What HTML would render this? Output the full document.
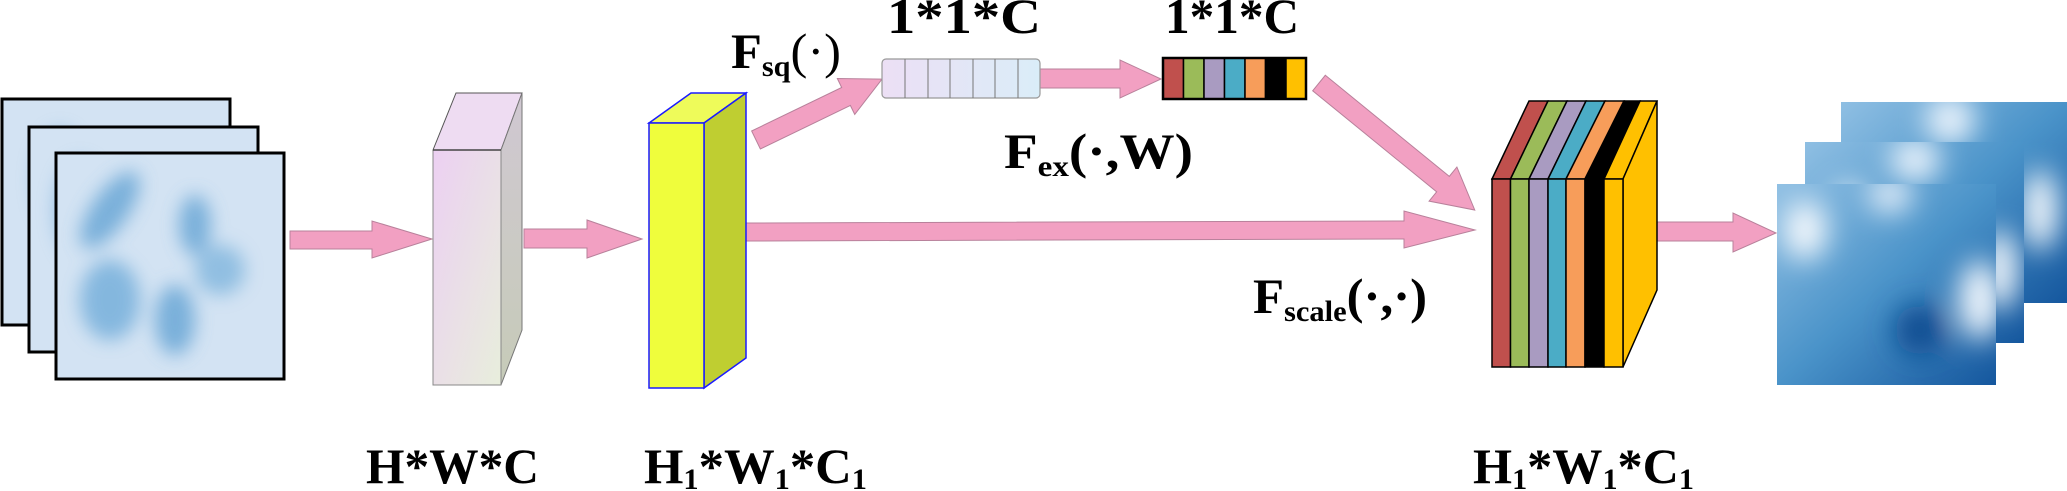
<!DOCTYPE html>
<html><head><meta charset="utf-8"><style>
html,body{margin:0;padding:0;background:#fff;}
svg{display:block;}
text{font-family:"Liberation Serif","Times New Roman",serif;font-weight:bold;fill:#000;}
</style></head><body>
<svg width="2067" height="491" viewBox="0 0 2067 491" xmlns="http://www.w3.org/2000/svg">
<defs>
<filter id="bl" x="-50%" y="-50%" width="200%" height="200%"><feGaussianBlur stdDeviation="9"/></filter>
<filter id="bl2" x="-50%" y="-50%" width="200%" height="200%"><feGaussianBlur stdDeviation="14"/></filter>
<linearGradient id="pinkF" x1="0" y1="0" x2="1" y2="1"><stop offset="0" stop-color="#ecd0f2"/><stop offset="1" stop-color="#e8eedc"/></linearGradient>
<linearGradient id="pinkS" x1="0" y1="0" x2="0" y2="1"><stop offset="0" stop-color="#d0c8d2"/><stop offset="1" stop-color="#c6cbb8"/></linearGradient>
<linearGradient id="cellG" x1="0" y1="0" x2="1" y2="0"><stop offset="0" stop-color="#ecdff5"/><stop offset="1" stop-color="#daedf8"/></linearGradient>
<linearGradient id="outG" x1="0" y1="0" x2="1" y2="1"><stop offset="0" stop-color="#8fbfe3"/><stop offset="0.5" stop-color="#4a93c9"/><stop offset="1" stop-color="#15579e"/></linearGradient>
<clipPath id="c1"><rect x="56" y="153" width="228" height="226"/></clipPath>
<clipPath id="c2"><rect x="1777" y="184" width="219" height="201"/></clipPath>
<clipPath id="c3"><rect x="1805" y="142" width="219" height="201"/></clipPath>
<clipPath id="c4"><rect x="1841" y="102" width="226" height="201"/></clipPath>
</defs>

<rect x="2" y="99" width="228" height="226" fill="#d3e3f3" stroke="#000" stroke-width="3"/>
<g filter="url(#bl)" opacity="0.6"><ellipse cx="60" cy="180" rx="25" ry="50" fill="#6ea9d6"/><ellipse cx="90" cy="270" rx="40" ry="30" fill="#6ea9d6"/></g>
<rect x="29" y="127" width="229" height="225" fill="#d3e3f3" stroke="#000" stroke-width="3"/>
<g filter="url(#bl)" opacity="0.6"><ellipse cx="80" cy="210" rx="25" ry="50" fill="#6ea9d6"/><ellipse cx="110" cy="300" rx="40" ry="30" fill="#6ea9d6"/></g>
<rect x="56" y="153" width="228" height="226" fill="#d3e3f3" stroke="#000" stroke-width="3"/>
<g clip-path="url(#c1)" filter="url(#bl)" opacity="0.75">
<ellipse cx="110" cy="210" rx="18" ry="45" fill="#5c9fd2" transform="rotate(35 110 210)"/>
<ellipse cx="195" cy="225" rx="16" ry="30" fill="#5c9fd2"/>
<ellipse cx="110" cy="300" rx="30" ry="40" fill="#6aa9d8"/>
<ellipse cx="175" cy="320" rx="20" ry="35" fill="#5c9fd2"/>
<ellipse cx="220" cy="270" rx="25" ry="25" fill="#7ab2dc"/>
</g>
<rect x="56" y="153" width="228" height="226" fill="none" stroke="#000" stroke-width="3"/>

<g fill="#f2a0c2" stroke="#b8819b" stroke-width="1">
<polygon points="290,231 372,231 372,221 432,239 372,258 372,249 290,249"/>
<polygon points="524,229 587,229 587,220 642,239 587,258 587,248 524,248"/>
<polygon points="746,223 1404,221 1404,211 1475,230 1404,248 1404,239 746,241"/>
<polygon points="1040,69 1120,69 1120,60 1161,79 1120,98 1120,88 1040,88"/>
<polygon points="1657,222 1733,222 1733,213 1776,233 1733,252 1733,241 1657,241"/>
<g transform="translate(756,140) rotate(-25.8)"><polygon points="0,-10 100,-10 100,-20 140,0 100,20 100,10 0,10"/></g>
<g transform="translate(1319,83) rotate(39.2)"><polygon points="0,-10 160,-10 160,-22 201,0 160,22 160,10 0,10"/></g>
</g>

<polygon points="433,150 456,93 522,93 501,150" fill="#eedcf2" stroke="#555" stroke-width="1"/>
<polygon points="501,150 522,93 522,330 501,385" fill="url(#pinkS)" stroke="#777" stroke-width="1"/>
<rect x="433" y="150" width="68" height="235" fill="url(#pinkF)" stroke="#888" stroke-width="1"/>
<line x1="433" y1="150" x2="501" y2="150" stroke="#444" stroke-width="1.5"/>

<polygon points="649,123 691,93 746,93 704,123" fill="#eefb5a" stroke="#1a1aff" stroke-width="1.5"/>
<polygon points="704,123 746,93 746,358 704,388" fill="#bfce31" stroke="#1a1aff" stroke-width="1.5"/>
<rect x="649" y="123" width="55" height="265" fill="#effd3c" stroke="#1a1aff" stroke-width="1.5"/>

<rect x="882" y="59" width="158" height="39" rx="4" fill="url(#cellG)" stroke="#999" stroke-width="1.2"/>
<g stroke="#777" stroke-width="1">
<line x1="905" y1="59" x2="905" y2="98"/><line x1="928" y1="59" x2="928" y2="98"/><line x1="950" y1="59" x2="950" y2="98"/>
<line x1="973" y1="59" x2="973" y2="98"/><line x1="995" y1="59" x2="995" y2="98"/><line x1="1018" y1="59" x2="1018" y2="98"/>
</g>

<g stroke="#000" stroke-width="1.5">
<rect x="1163" y="58" width="20.5" height="41" fill="#c0504d"/>
<rect x="1183.5" y="58" width="20.5" height="41" fill="#9bbb59"/>
<rect x="1204" y="58" width="20.5" height="41" fill="#a99bc1"/>
<rect x="1224.5" y="58" width="20.5" height="41" fill="#4bacc6"/>
<rect x="1245" y="58" width="20.5" height="41" fill="#f79d5a"/>
<rect x="1265.5" y="58" width="20.5" height="41" fill="#000"/>
<rect x="1286" y="58" width="20" height="41" fill="#ffc000"/>
</g>
<rect x="1163" y="58" width="143" height="41" fill="none" stroke="#000" stroke-width="2.5"/>

<g stroke="#000" stroke-width="1.5">
<polygon points="1492,179 1529,101 1548,101 1510.5,179" fill="#c0504d"/>
<polygon points="1510.5,179 1548,101 1567,101 1529,179" fill="#9bbb59"/>
<polygon points="1529,179 1567,101 1586,101 1548,179" fill="#a99bc1"/>
<polygon points="1548,179 1586,101 1605,101 1566,179" fill="#4bacc6"/>
<polygon points="1566,179 1605,101 1624,101 1585,179" fill="#f79d5a"/>
<polygon points="1585,179 1624,101 1640,101 1604,179" fill="#000"/>
<polygon points="1604,179 1640,101 1657,101 1623,179" fill="#ffc000"/>
<polygon points="1623,179 1657,101 1657,290 1623,367" fill="#ffc000"/>
<rect x="1492" y="179" width="18.5" height="188" fill="#c0504d"/>
<rect x="1510.5" y="179" width="18.5" height="188" fill="#9bbb59"/>
<rect x="1529" y="179" width="19" height="188" fill="#a99bc1"/>
<rect x="1548" y="179" width="18" height="188" fill="#4bacc6"/>
<rect x="1566" y="179" width="19" height="188" fill="#f79d5a"/>
<rect x="1585" y="179" width="19" height="188" fill="#000"/>
<rect x="1604" y="179" width="19" height="188" fill="#ffc000"/>
</g>

<rect x="1841" y="102" width="226" height="201" fill="url(#outG)"/>
<g clip-path="url(#c4)" filter="url(#bl2)"><ellipse cx="1950" cy="120" rx="25" ry="25" fill="#e8f2fb"/><ellipse cx="2040" cy="210" rx="18" ry="40" fill="#f2f7fc"/></g>
<rect x="1805" y="142" width="219" height="201" fill="url(#outG)"/>
<g clip-path="url(#c3)" filter="url(#bl2)"><ellipse cx="1915" cy="160" rx="25" ry="22" fill="#e8f2fb"/><ellipse cx="1850" cy="210" rx="18" ry="25" fill="#f2f7fc"/><ellipse cx="2000" cy="270" rx="18" ry="40" fill="#f2f7fc"/></g>
<rect x="1777" y="184" width="219" height="201" fill="url(#outG)"/>
<g clip-path="url(#c2)" filter="url(#bl2)"><ellipse cx="1805" cy="230" rx="22" ry="30" fill="#f2f7fc"/><ellipse cx="1890" cy="195" rx="22" ry="18" fill="#e3eef9"/><ellipse cx="1980" cy="300" rx="22" ry="40" fill="#eef5fc"/><ellipse cx="1920" cy="330" rx="25" ry="25" fill="#0d4b90"/></g>

<text x="366" y="483" font-size="50" textLength="173" lengthAdjust="spacingAndGlyphs">H*W*C</text>
<text x="644" y="483" font-size="50" textLength="223" lengthAdjust="spacingAndGlyphs">H<tspan font-size="30" dy="6">1</tspan><tspan dy="-6">*W</tspan><tspan font-size="30" dy="6">1</tspan><tspan dy="-6">*C</tspan><tspan font-size="30" dy="6">1</tspan></text>
<text x="1473" y="483" font-size="50" textLength="221" lengthAdjust="spacingAndGlyphs">H<tspan font-size="30" dy="6">1</tspan><tspan dy="-6">*W</tspan><tspan font-size="30" dy="6">1</tspan><tspan dy="-6">*C</tspan><tspan font-size="30" dy="6">1</tspan></text>
<text x="887" y="33" font-size="50" textLength="154" lengthAdjust="spacingAndGlyphs">1*1*C</text>
<text x="1165" y="33" font-size="50" textLength="134" lengthAdjust="spacingAndGlyphs">1*1*C</text>
<text x="731" y="68" font-size="50" textLength="110" lengthAdjust="spacingAndGlyphs">F<tspan font-size="30" dy="8">sq</tspan><tspan dy="-8" font-weight="normal">(·)</tspan></text>
<text x="1004" y="168" font-size="50" textLength="189" lengthAdjust="spacingAndGlyphs">F<tspan font-size="30" dy="8">ex</tspan><tspan dy="-8">(·,W)</tspan></text>
<text x="1253" y="313" font-size="50" textLength="174" lengthAdjust="spacingAndGlyphs">F<tspan font-size="30" dy="8">scale</tspan><tspan dy="-8">(·,·)</tspan></text>
</svg>
</body></html>
